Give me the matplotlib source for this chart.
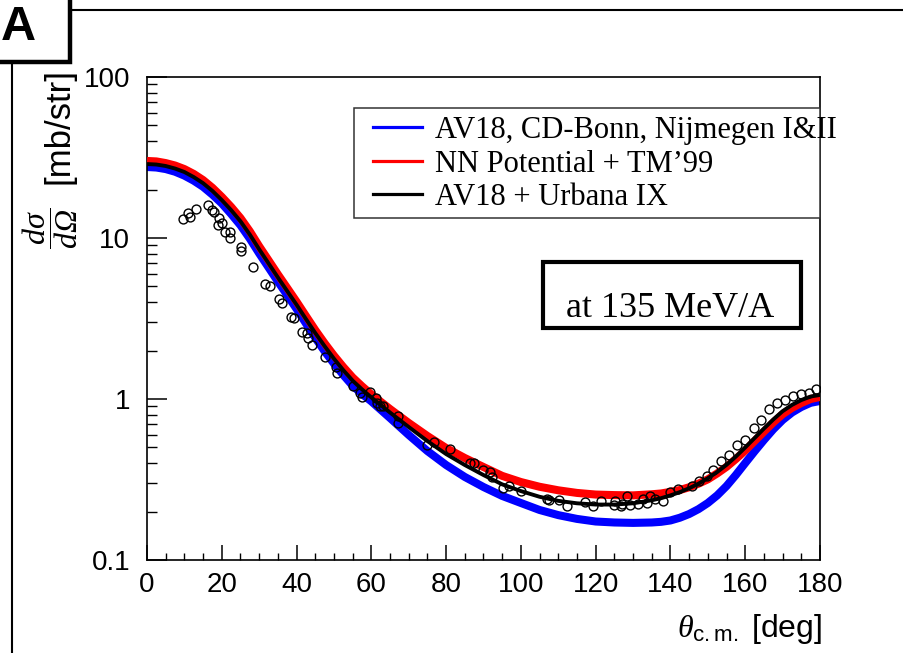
import matplotlib
matplotlib.use("Agg")
import matplotlib.pyplot as plt
from matplotlib.lines import Line2D
from matplotlib.patches import Rectangle
from matplotlib.font_manager import FontProperties
from matplotlib.ticker import MultipleLocator, LogLocator, NullFormatter, FuncFormatter

plt.rcParams["font.family"] = ["Liberation Sans", "DejaVu Sans"]
plt.rcParams["mathtext.fontset"] = "custom"
plt.rcParams["mathtext.it"] = "Liberation Serif:italic"
plt.rcParams["mathtext.rm"] = "Liberation Serif"
plt.rcParams["mathtext.sf"] = "Liberation Sans"
plt.rcParams["mathtext.cal"] = "Liberation Serif:italic"

# ---------------- data ----------------
theta = [0, 2.5, 5, 7.5, 10, 12.5, 15, 17.5, 20, 22.5, 25, 27.5, 30, 32.5, 35, 37.5,
         40, 42.5, 45, 47.5, 50, 52.5, 55, 57.5, 60,
         65, 70, 75, 80, 85, 90, 95, 100, 105, 110, 115, 120, 125, 130, 135,
         137.5, 140, 142.5, 145, 147.5, 150, 152.5, 155, 157.5, 160, 162.5, 165,
         167.5, 170, 172.5, 175, 177.5, 180]

av18_cdbonn_nijm = [27.6, 27.4, 26.8, 25.8, 24.4, 22.7, 20.8, 18.6, 16.4, 14.1, 12.0,
                    9.91, 8.03, 6.57, 5.37, 4.42, 3.63, 2.95, 2.40, 1.98, 1.66, 1.41,
                    1.21, 1.075, 0.967,
                    0.762, 0.598, 0.475, 0.389, 0.328, 0.284, 0.250, 0.226, 0.2045,
                    0.190, 0.180, 0.1734, 0.171, 0.170, 0.171,
                    0.1726, 0.176, 0.183, 0.193, 0.207, 0.226, 0.252, 0.288, 0.3375,
                    0.400, 0.473, 0.556, 0.648, 0.741, 0.824, 0.892, 0.947, 0.972]

nn_tm99 = [30.1, 29.9, 29.2, 28.2, 26.8, 25.0, 22.9, 20.5, 18.0, 15.6, 13.3, 11.0, 8.88,
           7.27, 5.94, 4.89, 4.02, 3.28, 2.68, 2.22, 1.86, 1.58, 1.36, 1.20, 1.068,
           0.866, 0.710, 0.589, 0.496, 0.430, 0.378, 0.333, 0.305, 0.285, 0.271, 0.261,
           0.255, 0.253, 0.252, 0.256,
           0.259, 0.265, 0.272, 0.283, 0.298, 0.317, 0.345, 0.379, 0.424, 0.479, 0.548,
           0.627, 0.715, 0.805, 0.880, 0.944, 1.000, 1.03]

av18_uix = [28.8, 28.6, 28.0, 27.0, 25.7, 23.9, 21.9, 19.6, 17.2, 14.9, 12.7, 10.5, 8.51,
            6.96, 5.69, 4.68, 3.85, 3.14, 2.57, 2.13, 1.78, 1.51, 1.30, 1.148, 1.023,
            0.824, 0.670, 0.548, 0.455, 0.389, 0.337, 0.295, 0.268, 0.247, 0.233, 0.225,
            0.221, 0.221, 0.225, 0.235,
            0.242, 0.252, 0.264, 0.279, 0.298, 0.322, 0.352, 0.390, 0.439, 0.500, 0.572,
            0.655, 0.746, 0.840, 0.919, 0.985, 1.036, 1.06]

data_theta = [9.7, 10.9, 11.5, 13.0, 16.2, 17.3, 17.9, 18.9, 19.3, 20.1, 20.9, 22.1,
              22.1, 25.1, 25.1, 28.3, 31.6, 32.9, 35.3, 36.0, 38.5, 39.3, 41.5, 42.7,
              43.1, 44.0, 47.6, 50.5, 50.9, 55.2, 57.0, 57.4, 59.6, 61.2, 61.4, 62.3,
              63.2, 67.2, 67.2, 74.8, 76.7, 81.0, 86.5, 87.5, 90.0, 91.7, 92.2, 95.2,
              96.7, 100.1, 107.0, 107.6, 110.2, 112.2, 117.1, 119.2, 121.4, 124.8,
              125.3, 126.7, 127.0, 128.4, 129.1, 131.4, 132.6, 133.6, 134.5, 135.9,
              138.0, 139.9, 141.9, 145.7, 147.6, 149.9, 151.5, 153.4, 155.7, 157.8,
              160.0, 162.3, 164.2, 166.4, 168.6, 170.6, 172.9, 175.0, 177.0, 178.8]

data_xs = [13.1, 14.2, 13.5, 15.1, 16.0, 14.9, 14.6, 12.1, 13.4, 12.4, 10.9, 10.9,
           10.0, 8.75, 8.3, 6.6, 5.18, 5.0, 4.18, 3.94, 3.24, 3.2, 2.62, 2.57, 2.39,
           2.16, 1.83, 1.59, 1.46, 1.20, 1.09, 1.03, 1.11, 1.01, 0.94, 0.90, 0.91,
           0.78, 0.71, 0.52, 0.54, 0.49, 0.40, 0.40, 0.36, 0.35, 0.33, 0.28, 0.29,
           0.27, 0.24, 0.237, 0.236, 0.216, 0.230, 0.215, 0.232, 0.22, 0.232, 0.216,
           0.224, 0.248, 0.22, 0.223, 0.24, 0.227, 0.25, 0.24, 0.232, 0.263, 0.275,
           0.29, 0.31, 0.333, 0.36, 0.412, 0.45, 0.52, 0.56, 0.66, 0.74, 0.862, 0.94,
           0.99, 1.04, 1.07, 1.09, 1.15]

legend_labels = ["AV18, CD-Bonn, Nijmegen I&II", "NN Potential + TM\u201999",
                 "AV18 + Urbana IX"]
y_ticks = [0.1, 1, 10, 100]

# ---------------- figure ----------------
W, H = 904, 653
fig = plt.figure(figsize=(W / 100, H / 100), dpi=100)


def fx(px):
    return px / W


def fy(py):
    return 1 - py / H


ax = fig.add_axes([fx(147), fy(560), (820 - 147) / W, (560 - 77) / H])
ax.set_yscale("log")
ax.set_xlim(0, 180)
ax.set_ylim(0.1, 100)

ax.plot(theta, av18_cdbonn_nijm, color="#0000ff", lw=5.8, solid_capstyle="butt",
        solid_joinstyle="round", zorder=2)
ax.plot(theta, nn_tm99, color="#ff0000", lw=5.8, solid_capstyle="butt",
        solid_joinstyle="round", zorder=3)
ax.plot(theta, av18_uix, color="black", lw=2.8, solid_capstyle="butt",
        solid_joinstyle="round", zorder=4)
ax.plot(data_theta, data_xs, "o", mfc="none", mec="black", ms=6.4, mew=1.0, zorder=5)

# ticks
ax.xaxis.set_major_locator(MultipleLocator(20))
ax.xaxis.set_minor_locator(MultipleLocator(5))
ax.set_yticks(y_ticks)
ax.yaxis.set_major_formatter(FuncFormatter(lambda v, p: f"{v:g}"))
ax.yaxis.set_minor_locator(LogLocator(base=10, subs=range(2, 10)))
ax.yaxis.set_minor_formatter(NullFormatter())
ax.tick_params(which="both", direction="in", top=False, right=False, colors="black")
ax.tick_params(axis="y", which="major", length=14.4, width=1.1, pad=12, labelsize=20)
ax.tick_params(axis="y", which="minor", length=7.2, width=1.0)
ax.tick_params(axis="x", which="major", length=10.8, width=1.1, pad=9, labelsize=20)
ax.tick_params(axis="x", which="minor", length=5.4, width=1.0)
for s in ax.spines.values():
    s.set_linewidth(1.2)
    s.set_color("black")

# legend
box = Rectangle((fx(354), fy(218)), (820 - 354) / W, (218 - 108) / H,
                transform=fig.transFigure, clip_on=False, facecolor="white",
                edgecolor="#333333", lw=1.1, zorder=6)
ax.add_patch(box)
handles = [Line2D([], [], color="#0000ff", lw=2.3),
           Line2D([], [], color="#ff0000", lw=2.3),
           Line2D([], [], color="black", lw=2.3)]
leg = ax.legend(handles, legend_labels, loc="upper left",
                bbox_to_anchor=(fx(373), fy(116)), bbox_transform=fig.transFigure,
                frameon=False, borderpad=0, borderaxespad=0, handlelength=1.6,
                handletextpad=0.42, labelspacing=0.15,
                prop=FontProperties(family="Liberation Serif", size=22))
leg.set_zorder(7)

# energy box
ebox = Rectangle((fx(543), fy(328)), (801 - 543) / W, (328 - 262) / H,
                 transform=fig.transFigure, clip_on=False, facecolor="white",
                 edgecolor="black", lw=3.0, zorder=6)
ax.add_patch(ebox)
fig.text(fx(670), fy(317), "at 135 MeV/A", ha="center", va="baseline",
         fontsize=26, family="Liberation Serif", zorder=8)

# x axis title
fig.text(fx(822), fy(637), r"$\theta_{\mathsf{c.m.}}$ [deg]", ha="right",
         va="baseline", fontsize=23)

# y axis title: [mb/str] and the fraction d(sigma)/d(Omega)
fig.text(fx(69), fy(68), "[mb/str]", rotation=90, rotation_mode="anchor",
         ha="right", va="baseline", fontsize=25)
fig.text(fx(50), fy(228), r"$\dfrac{d\sigma}{d\mathcal{\Omega}}$", rotation=90,
         ha="center", va="center", fontsize=23)

# panel frame and "A" tag
fig.add_artist(Line2D([fx(72), fx(904)], [fy(10), fy(10)], transform=fig.transFigure,
                      color="black", lw=1.5))
fig.add_artist(Line2D([fx(12), fx(12)], [fy(62), fy(653)], transform=fig.transFigure,
                      color="black", lw=1.5))
fig.add_artist(Rectangle((fx(-10), fy(61.5)), (70.5 + 10) / W, (61.5 + 10) / H,
                         transform=fig.transFigure, facecolor="white",
                         edgecolor="black", lw=3.2))
fig.text(fx(18), fy(40), "A", ha="center", va="baseline", fontsize=35,
         fontweight="bold")

fig.savefig("out.png", dpi=100)
